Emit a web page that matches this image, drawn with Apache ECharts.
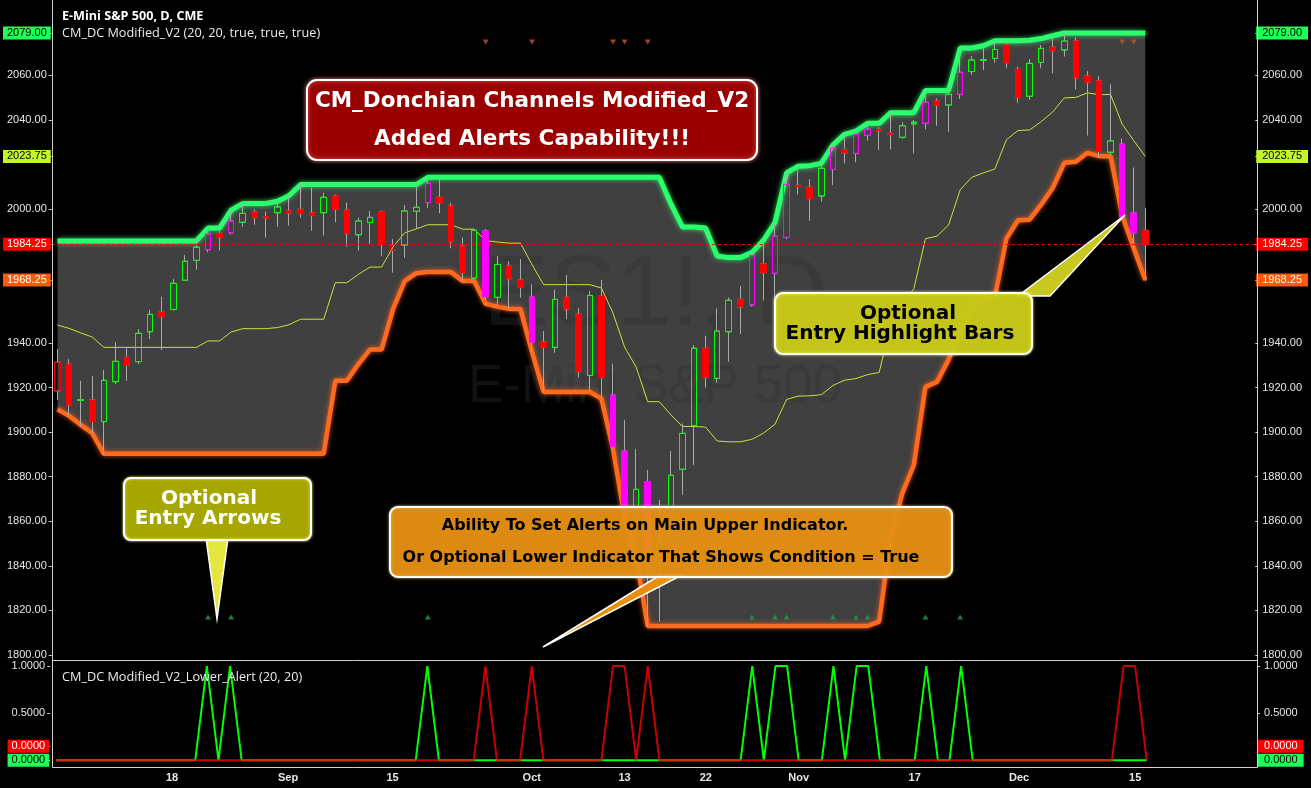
<!DOCTYPE html>
<html>
<head>
<meta charset="utf-8">
<script src="https://cdn.jsdelivr.net/npm/echarts@6/dist/echarts.min.js"></script>
<style>
html,body{margin:0;padding:0;background:#000;}
#chart{width:1311px;height:788px;}
</style>
</head>
<body>
<div id="chart"></div>
<script>
// ---------------- DATA ----------------
const dates = [
'2014-08-04','2014-08-05','2014-08-06','2014-08-07','2014-08-08','2014-08-11','2014-08-12','2014-08-13','2014-08-14','2014-08-15',
'2014-08-18','2014-08-19','2014-08-20','2014-08-21','2014-08-22','2014-08-25','2014-08-26','2014-08-27','2014-08-28','2014-08-29',
'2014-09-02','2014-09-03','2014-09-04','2014-09-05','2014-09-08','2014-09-09','2014-09-10','2014-09-11','2014-09-12','2014-09-15',
'2014-09-16','2014-09-17','2014-09-18','2014-09-19','2014-09-22','2014-09-23','2014-09-24','2014-09-25','2014-09-26','2014-09-29',
'2014-09-30','2014-10-01','2014-10-02','2014-10-03','2014-10-06','2014-10-07','2014-10-08','2014-10-09','2014-10-10','2014-10-13',
'2014-10-14','2014-10-15','2014-10-16','2014-10-17','2014-10-20','2014-10-21','2014-10-22','2014-10-23','2014-10-24','2014-10-27',
'2014-10-28','2014-10-29','2014-10-30','2014-10-31','2014-11-03','2014-11-04','2014-11-05','2014-11-06','2014-11-07','2014-11-10',
'2014-11-11','2014-11-12','2014-11-13','2014-11-14','2014-11-17','2014-11-18','2014-11-19','2014-11-20','2014-11-21','2014-11-24',
'2014-11-25','2014-11-26','2014-11-28','2014-12-01','2014-12-02','2014-12-03','2014-12-04','2014-12-05','2014-12-08','2014-12-09',
'2014-12-10','2014-12-11','2014-12-12','2014-12-15','2014-12-16'];

const opens = [
1918.5,1930.5,1914.2,1914.4,1904.7,1922.6,1933.5,1931.6,1945.0,1953.8,
1955.0,1968.1,1977.0,1981.8,1989.1,1989.4,1994.1,1998.7,1996.6,1998.4,
1999.2,1999.9,1998.3,1998.4,2005.9,1999.6,1988.5,1994.0,1998.8,1981.5,
1983.9,1999.0,2002.9,2005.3,2001.4,1983.4,1969.0,1990.2,1960.4,1974.5,
1968.2,1960.6,1940.4,1938.0,1960.4,1952.9,1925.4,1961.0,1916.6,1891.5,
1862.0,1877.8,1846.5,1852.3,1883.3,1902.9,1937.6,1924.1,1945.0,1959.5,
1957.0,1975.4,1971.2,1987.3,2010.7,2009.8,2005.9,2017.8,2026.8,2025.0,
2033.1,2035.8,2034.0,2032.2,2038.2,2038.5,2048.5,2046.7,2051.5,2061.7,
2066.8,2067.6,2073.6,2062.7,2050.6,2065.8,2072.6,2071.4,2075.4,2059.7,
2057.5,2025.5,2029.2,1998.3,1990.5];

const highs = [
1937.3,1932.8,1923.0,1925.1,1927.8,1940.4,1938.2,1946.2,1954.8,1960.7,
1968.7,1979.4,1985.4,1990.6,1991.4,1998.9,2002.2,2000.0,1998.9,2003.3,
2005.6,2011.1,2009.6,2007.4,2006.6,2002.9,1996.2,1999.2,1999.5,1986.6,
2001.8,2010.4,2013.4,2013.4,2002.9,1987.3,1991.1,1991.1,1979.0,1976.7,
1977.6,1966.2,1945.3,1964.0,1970.4,1955.6,1963.3,1968.2,1930.8,1905.4,
1892.4,1883.0,1869.5,1891.5,1903.9,1939.0,1943.1,1955.5,1960.3,1965.5,
1979.5,1985.0,1993.3,2016.1,2018.3,2013.4,2019.8,2028.8,2032.8,2034.7,
2037.7,2036.7,2043.0,2039.0,2040.0,2053.0,2049.7,2052.2,2071.5,2068.7,
2072.4,2075.1,2074.4,2063.9,2067.3,2073.6,2076.6,2079.0,2077.1,2061.9,
2059.7,2056.0,2031.7,2018.7,2000.6];

const lows = [
1914.4,1907.6,1902.7,1899.4,1889.7,1921.5,1923.0,1930.5,1941.7,1936.8,
1954.5,1967.8,1972.8,1980.6,1981.4,1988.7,1992.1,1993.0,1987.2,1992.1,
1992.6,1996.2,1990.3,1988.1,1994.1,1983.2,1981.4,1984.4,1979.1,1971.5,
1978.2,1991.1,2000.6,1998.1,1982.4,1967.9,1968.5,1957.4,1956.2,1955.2,
1960.3,1936.0,1918.1,1935.6,1950.6,1924.5,1918.1,1915.0,1892.5,1862.0,
1844.0,1812.7,1815.0,1850.8,1871.8,1885.2,1919.9,1922.2,1931.6,1944.0,
1956.25,1959.0,1960.5,1986.5,2006.6,1994.8,2003.3,2010.8,2020.5,2021.0,
2030.7,2026.5,2026.8,2031.6,2025.0,2035.8,2037.4,2034.7,2049.4,2060.2,
2062.4,2065.7,2063.2,2047.7,2049.0,2063.2,2060.9,2068.4,2053.7,2033.0,
2023.1,2024.3,1996.6,1982.4,1967.8];

const closes = [
1931.3,1912.1,1914.5,1904.7,1923.2,1931.7,1929.8,1944.3,1952.8,1951.8,
1966.7,1976.6,1982.9,1988.9,1987.2,1994.7,1998.1,1996.2,1996.0,2001.0,
1998.3,1998.0,1997.1,2005.3,1999.9,1989.0,1994.7,1996.3,1984.2,1983.9,
1999.2,2000.8,2011.6,2002.9,1985.4,1971.5,1990.5,1960.7,1975.2,1968.8,
1964.8,1940.1,1938.0,1959.5,1955.2,1927.1,1961.3,1924.5,1893.4,1864.3,
1874.3,1845.6,1850.1,1880.6,1899.4,1937.6,1924.6,1945.3,1959.1,1956.2,
1979.3,1971.5,1987.8,2011.1,2010.2,2004.8,2018.3,2027.3,2025.3,2033.5,
2035.8,2035.2,2033.5,2037.4,2039.0,2047.9,2046.6,2051.5,2061.4,2066.9,
2067.0,2071.6,2065.8,2050.0,2065.4,2072.1,2071.1,2075.4,2058.9,2056.9,
2025.8,2030.6,1996.6,1989.4,1984.25];

const closeBeforeStart = 1935.0;

const upperBand = [
1985.75,1985.75,1985.75,1985.75,1985.75,1985.75,1985.75,1985.75,1985.75,1985.75,
1985.75,1985.75,1985.75,1991.5,1991.5,1999.5,2002.5,2002.5,2002.5,2003.5,
2006,2011,2011,2011,2011,2011,2011,2011,2011,2011,
2011,2011,2014.25,2014.25,2014.25,2014.25,2014.25,2014.25,2014.25,2014.25,
2014.25,2014.25,2014.25,2014.25,2014.25,2014.25,2014.25,2014.25,2014.25,2014.25,
2014.25,2014.25,2014.25,2002.5,1992,1992,1991.5,1979,1978.25,1978.25,
1980.5,1986,1994,2016.25,2019.25,2019.5,2020.5,2028.75,2033.5,2035,
2038.5,2038.5,2043.25,2043.25,2043.25,2053.25,2053.25,2053.25,2072.25,2072.25,
2073.25,2075.5,2075.5,2075.5,2075.75,2076.5,2077.75,2079,2079,2079,
2079,2079,2079,2079,2079];

const lowerBand = [
1910.25,1907.25,1903.25,1899.5,1890.25,1890.25,1890.25,1890.25,1890.25,1890.25,
1890.25,1890.25,1890.25,1890.25,1890.25,1890.25,1890.25,1890.25,1890.25,1890.25,
1890.25,1890.25,1890.25,1890.25,1923,1923,1930.5,1937,1937,1955.25,
1967.75,1971.25,1971.75,1971.75,1971.75,1967.75,1967.75,1957.5,1956.25,1955.25,
1955.25,1936,1918,1918,1918,1918,1918,1915,1892.5,1862,
1844,1813,1813,1813,1813,1813,1813,1813,1813,1813,
1813,1813,1813,1813,1813,1813,1813,1813,1813,1813,
1813,1815,1853,1872.5,1885.25,1920.25,1922.5,1932.5,1945,1956.25,
1959.25,1960.5,1986.75,1995,1995.25,2002,2009.5,2020.75,2021.25,2025.25,
2023.75,2023.75,1997.25,1982.5,1968.25];

const greenAlert = [
0,0,0,0,0,0,0,0,0,0,
0,0,0,1,0,1,0,0,0,0,
0,0,0,0,0,0,0,0,0,0,
0,0,1,0,0,0,0,0,0,0,
0,0,0,0,0,0,0,0,0,0,
0,0,0,0,0,0,0,0,0,0,
1,0,1,1,0,0,0,1,0,1,
1,0,0,0,0,1,0,0,1,0,
0,0,0,0,0,0,0,0,0,0,
0,0,0,0,0];

const redAlert = [
0,0,0,0,0,0,0,0,0,0,
0,0,0,0,0,0,0,0,0,0,
0,0,0,0,0,0,0,0,0,0,
0,0,0,0,0,0,0,1,0,0,
0,1,0,0,0,0,0,0,1,1,
0,1,0,0,0,0,0,0,0,0,
0,0,0,0,0,0,0,0,0,0,
0,0,0,0,0,0,0,0,0,0,
0,0,0,0,0,0,0,0,0,0,
0,0,1,1,0];

const xTicks = [
['2014-08-18','18'],['2014-09-02','Sep'],['2014-09-15','15'],['2014-10-01','Oct'],['2014-10-13','13'],
['2014-10-22','22'],['2014-11-03','Nov'],['2014-11-17','17'],['2014-12-01','Dec'],['2014-12-15','15']];

const priceTicks = [1800,1820,1840,1860,1880,1900,1920,1940,2000,2040,2060];
const alertTicks = [0,0.5,1];

// ---------------- BUILD ----------------
const n = dates.length;
const padCount = 9;
const cats = dates.slice();
for (let k = 0; k < padCount; k++) cats.push('pad' + k);

const tickMap = {};
xTicks.forEach(t => { tickMap[t[0]] = t[1]; });

const midBand = upperBand.map((u, i) => (u + lowerBand[i]) / 2);
const bandDiff = upperBand.map((u, i) => u - lowerBand[i]);

const GREEN = '#00ff00', RED = '#ff0000', MAG = '#ff00ff', WICK = '#a9a9a9';

const wickData = [], bodyData = [];
for (let i = 0; i < n; i++) {
  const o = opens[i], c = closes[i];
  const prev = i ? closes[i - 1] : closeBeforeStart;
  const hl = greenAlert[i] || redAlert[i];
  const stroke = hl ? MAG : (c >= prev ? GREEN : RED);
  const fill = c > o ? 'rgba(0,0,0,0)' : stroke;
  wickData.push([o, c, lows[i], highs[i]]);
  bodyData.push({
    value: [o, c, Math.min(o, c), Math.max(o, c)],
    itemStyle: { color: fill, color0: fill, borderColor: stroke, borderColor0: stroke, borderWidth: 1 }
  });
}

const upArrows = [], downArrows = [];
const ARROW_LOW = 1817, ARROW_HIGH = 2075;
for (let i = 0; i < n; i++) {
  if (greenAlert[i]) upArrows.push([i, ARROW_LOW]);
  if (redAlert[i]) downArrows.push([i, ARROW_HIGH]);
}

const q = v => Math.round(v * 4) / 4;
const lastUpper = upperBand[n - 1], lastLower = lowerBand[n - 1];
const lastMid = midBand[n - 1], lastClose = closes[n - 1];
const specials = [
  { v: lastUpper, k: 'g', t: q(lastUpper).toFixed(2) },
  { v: lastMid, k: 'y', t: q(lastMid).toFixed(2) },
  { v: lastClose, k: 'r', t: q(lastClose).toFixed(2) },
  { v: lastLower, k: 'o', t: q(lastLower).toFixed(2) }
];
const mainLabelValues = priceTicks.concat(specials.map(s => s.v));

function mainFmt(v) {
  for (const s of specials) if (Math.abs(v - s.v) < 1e-6) return '{' + s.k + '|' + s.t + '}';
  return '{n|' + v.toFixed(2) + '}';
}
const ALERT_RED_POS = 0.15;
const alertLabelValues = alertTicks.concat([ALERT_RED_POS]);
function alertFmt(v) {
  if (Math.abs(v - ALERT_RED_POS) < 1e-9) return '{r|' + redAlert[n - 1].toFixed(4) + '}';
  if (v === 0) return '{g|' + greenAlert[n - 1].toFixed(4) + '}';
  return '{n|' + v.toFixed(4) + '}';
}

function richFor(side) {
  const padBox = side === 'left' ? [1, 4, 1, 4] : [1, 6, 1, 6];
  const padN = side === 'left' ? [0, 4, 0, 0] : [0, 0, 0, 6];
  const base = { fontSize: 11, fontFamily: 'Liberation Sans', lineHeight: 12 };
  return {
    n: Object.assign({ color: '#e6e6e6', padding: padN }, base),
    g: Object.assign({ color: '#000', backgroundColor: '#1eff58', padding: padBox }, base),
    y: Object.assign({ color: '#000', backgroundColor: '#c2f52c', padding: padBox }, base),
    r: Object.assign({ color: '#fff', backgroundColor: '#ff0000', padding: padBox }, base),
    o: Object.assign({ color: '#fff', backgroundColor: '#ff5a0c', padding: padBox }, base)
  };
}

function yAxisCfg(grid, side, min, max, values, fmt) {
  return {
    type: 'value', gridIndex: grid, position: side, min: min, max: max,
    splitLine: { show: false },
    axisLine: { show: false },
    axisTick: { show: true, length: 3, customValues: values, lineStyle: { color: '#cfcfcf' } },
    axisLabel: { customValues: values, formatter: fmt, margin: 1, rich: richFor(side) }
  };
}

const MAIN_MIN = 1797.76, MAIN_MAX = 2093.8;
const AL_MIN = -0.071, AL_MAX = 1.053;

const chart = echarts.init(document.getElementById('chart'), null, { renderer: 'canvas' });

function boxText(x, y, txt, size, color) {
  return { type: 'text', z: 101, style: { text: txt, x: x, y: y, fill: color,
    font: 'bold ' + size + 'px "DejaVu Sans"', textAlign: 'center', textVerticalAlign: 'middle' } };
}

const graphics = [
  // watermark
  { type: 'text', z: 2, silent: true, style: { text: 'ES1!, D', x: 655, y: 297, fill: 'rgba(49,49,49,0.35)',
      font: '100px "Liberation Sans"', textAlign: 'center', textVerticalAlign: 'middle' } },
  { type: 'text', z: 2, silent: true, style: { text: 'E-Mini S&P 500', x: 655, y: 387, fill: 'rgba(49,49,49,0.35)',
      font: '53px "Liberation Sans"', textAlign: 'center', textVerticalAlign: 'middle' } },
  // frame lines
  { type: 'line', z: 50, shape: { x1: 52.5, y1: 0, x2: 52.5, y2: 767.5 }, style: { stroke: '#d0d0d0', lineWidth: 1 } },
  { type: 'line', z: 50, shape: { x1: 1257.5, y1: 0, x2: 1257.5, y2: 767.5 }, style: { stroke: '#d0d0d0', lineWidth: 1 } },
  { type: 'line', z: 50, shape: { x1: 52.5, y1: 660.5, x2: 1257.5, y2: 660.5 }, style: { stroke: '#d0d0d0', lineWidth: 1 } },
  { type: 'line', z: 50, shape: { x1: 52.5, y1: 767.5, x2: 1257.5, y2: 767.5 }, style: { stroke: '#d0d0d0', lineWidth: 1 } },
  // titles
  { type: 'text', z: 60, style: { text: 'E-Mini S&P 500, D, CME', x: 62, y: 16, fill: '#ffffff',
      font: 'bold 12.6px "Open Sans"', textVerticalAlign: 'middle' } },
  { type: 'text', z: 60, style: { text: 'CM_DC Modified_V2 (20, 20, true, true, true)', x: 62, y: 33, fill: '#ececec',
      font: '12.7px "Open Sans"', textVerticalAlign: 'middle' } },
  { type: 'text', z: 60, style: { text: 'CM_DC Modified_V2_Lower_Alert (20, 20)', x: 62, y: 677, fill: '#ececec',
      font: '12.7px "Open Sans"', textVerticalAlign: 'middle' } },

  // red title box
  { type: 'rect', z: 100, shape: { x: 307, y: 80, width: 450, height: 80, r: 10 },
    style: { fill: '#9a0000', stroke: '#ffffff', lineWidth: 2, shadowBlur: 4, shadowColor: 'rgba(255,140,140,0.8)' } },
  boxText(532, 101, 'CM_Donchian Channels Modified_V2', 21.5, '#ffffff'),
  boxText(532, 139, 'Added Alerts Capability!!!', 21.5, '#ffffff'),

  // highlight bars box
  { type: 'polygon', z: 99, shape: { points: [[1018, 296], [1050, 296], [1125, 215]] },
    style: { fill: '#c8c820', stroke: '#ffffff', lineWidth: 1.5 } },
  { type: 'rect', z: 100, shape: { x: 775, y: 293, width: 257, height: 61, r: 8 },
    style: { fill: 'rgba(196,196,18,0.92)', stroke: '#ffffff', lineWidth: 2, shadowBlur: 3, shadowColor: 'rgba(255,255,120,0.8)' } },
  boxText(908, 314, 'Optional', 20, '#000000'),
  boxText(900, 334, 'Entry Highlight Bars', 20, '#000000'),

  // entry arrows box
  { type: 'polygon', z: 99, shape: { points: [[206, 538], [228, 538], [217, 619]] },
    style: { fill: '#e6e640', stroke: '#ffffff', lineWidth: 1.5 } },
  { type: 'rect', z: 100, shape: { x: 124, y: 478, width: 187, height: 62, r: 7 },
    style: { fill: '#a6a600', stroke: '#ffffff', lineWidth: 2, shadowBlur: 3, shadowColor: 'rgba(255,255,120,0.8)' } },
  boxText(209, 499, 'Optional', 20, '#ffffff'),
  boxText(208, 519, 'Entry Arrows', 20, '#ffffff'),

  // orange box
  { type: 'polygon', z: 99, shape: { points: [[660, 575], [682, 575], [543, 647]] },
    style: { fill: '#e8900e', stroke: '#ffffff', lineWidth: 1.5 } },
  { type: 'rect', z: 100, shape: { x: 390, y: 507, width: 562, height: 70, r: 8 },
    style: { fill: 'rgba(226,138,10,0.88)', stroke: '#ffffff', lineWidth: 2, shadowBlur: 3, shadowColor: 'rgba(255,200,120,0.8)' } },
  boxText(645, 526, 'Ability To Set Alerts on Main Upper Indicator.', 16, '#000000'),
  boxText(661, 558, 'Or Optional Lower Indicator That Shows Condition = True', 16, '#000000')
];

const option = {
  backgroundColor: '#000000',
  animation: false,
  grid: [
    { left: 50.2, right: 54, top: 0, height: 660 },
    { left: 50.2, right: 54, top: 661, height: 106 }
  ],
  xAxis: [
    { type: 'category', gridIndex: 0, data: cats, boundaryGap: true,
      axisLine: { show: false }, axisTick: { show: false }, axisLabel: { show: false }, splitLine: { show: false } },
    { type: 'category', gridIndex: 1, data: cats, boundaryGap: true,
      axisLine: { show: false }, axisTick: { show: false }, splitLine: { show: false },
      axisLabel: { interval: (idx, v) => tickMap.hasOwnProperty(v), formatter: v => tickMap[v] || '',
        color: '#e6e6e6', fontWeight: 'bold', fontSize: 11, fontFamily: 'Liberation Sans', margin: 5 } }
  ],
  yAxis: [
    yAxisCfg(0, 'left', MAIN_MIN, MAIN_MAX, mainLabelValues, mainFmt),
    yAxisCfg(0, 'right', MAIN_MIN, MAIN_MAX, mainLabelValues, mainFmt),
    yAxisCfg(1, 'left', AL_MIN, AL_MAX, alertLabelValues, alertFmt),
    yAxisCfg(1, 'right', AL_MIN, AL_MAX, alertLabelValues, alertFmt)
  ],
  series: [
    { name: 'base', type: 'line', xAxisIndex: 0, yAxisIndex: 0, data: lowerBand, stack: 'dc',
      symbol: 'none', lineStyle: { opacity: 0 }, silent: true, z: 1 },
    { name: 'band', type: 'line', xAxisIndex: 0, yAxisIndex: 0, data: bandDiff, stack: 'dc',
      symbol: 'none', lineStyle: { opacity: 0 }, areaStyle: { color: '#404040', opacity: 1 }, silent: true, z: 1 },
    { name: 'mid', type: 'line', xAxisIndex: 0, yAxisIndex: 0, data: midBand, symbol: 'none',
      lineStyle: { color: '#c9e23a', width: 1 }, silent: true, z: 3 },
    { name: 'upper', type: 'line', xAxisIndex: 0, yAxisIndex: 0, data: upperBand, symbol: 'none',
      lineStyle: { color: '#2aff6c', width: 5, shadowColor: 'rgba(60,255,120,0.8)', shadowBlur: 5 }, silent: true, z: 3 },
    { name: 'lower', type: 'line', xAxisIndex: 0, yAxisIndex: 0, data: lowerBand, symbol: 'none',
      lineStyle: { color: '#ff6a1e', width: 4.5, shadowColor: 'rgba(255,100,30,0.8)', shadowBlur: 5 }, silent: true, z: 3 },
    { name: 'wicks', type: 'candlestick', xAxisIndex: 0, yAxisIndex: 0, data: wickData, barWidth: 6, silent: true, z: 4,
      itemStyle: { color: 'rgba(0,0,0,0)', color0: 'rgba(0,0,0,0)', borderColor: WICK, borderColor0: WICK, borderWidth: 1 } },
    { name: 'bodies', type: 'candlestick', xAxisIndex: 0, yAxisIndex: 0, data: bodyData, barWidth: 6, silent: true, z: 5,
      markLine: { silent: true, symbol: ['none', 'none'], label: { show: false },
        lineStyle: { color: '#ff0000', type: [3, 3], width: 1 }, data: [{ yAxis: lastClose }] } },
    { name: 'upArrows', type: 'scatter', xAxisIndex: 0, yAxisIndex: 0, data: upArrows, symbol: 'triangle',
      symbolSize: [6, 5], itemStyle: { color: '#1f9e4c' }, silent: true, z: 6 },
    { name: 'downArrows', type: 'scatter', xAxisIndex: 0, yAxisIndex: 0, data: downArrows, symbol: 'triangle',
      symbolRotate: 180, symbolSize: [6, 5], itemStyle: { color: '#c0562e' }, silent: true, z: 6 },
    { name: 'greenAlert', type: 'line', xAxisIndex: 1, yAxisIndex: 2, data: greenAlert, symbol: 'none',
      lineStyle: { color: '#00ff00', width: 2 }, silent: true, z: 3 },
    { name: 'redAlert', type: 'line', xAxisIndex: 1, yAxisIndex: 2, data: redAlert, symbol: 'none',
      lineStyle: { color: '#ff0000', width: 2, opacity: 0.8 }, silent: true, z: 4 }
  ],
  graphic: { elements: graphics }
};
chart.setOption(option);
</script>
</body>
</html>
